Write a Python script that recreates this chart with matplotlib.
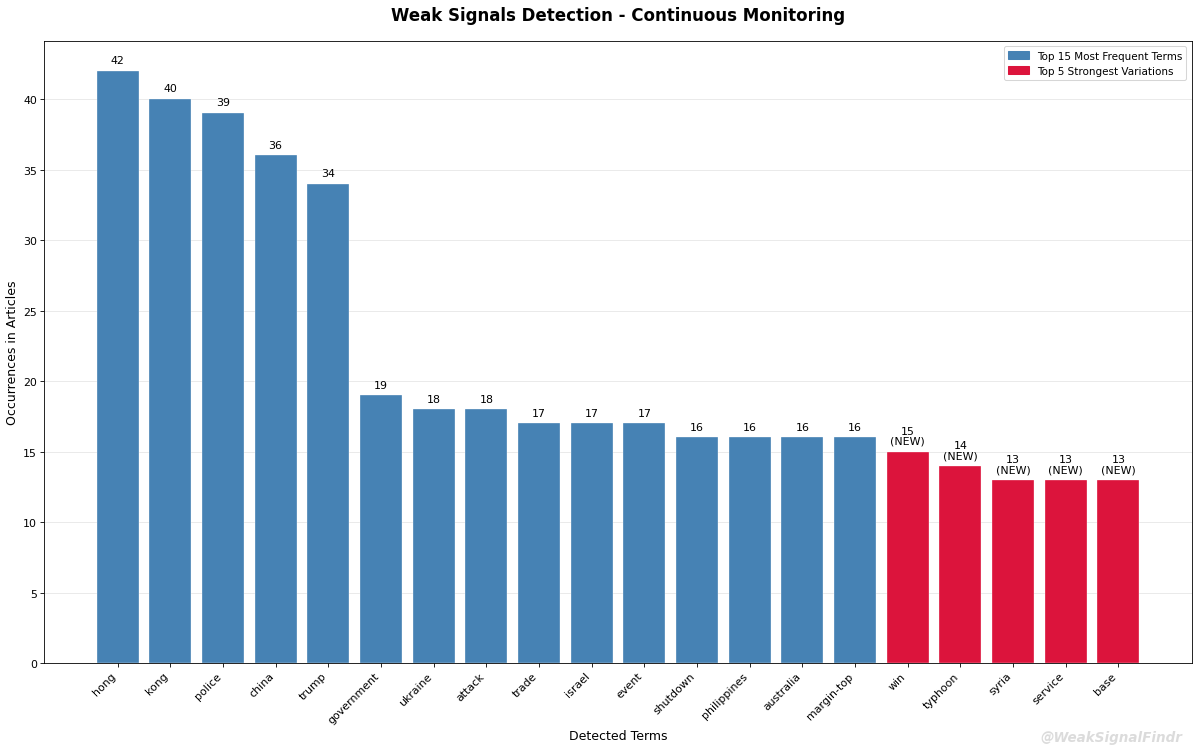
import matplotlib
matplotlib.use('Agg')
import matplotlib.pyplot as plt
from matplotlib.patches import Patch

terms = ['hong', 'kong', 'police', 'china', 'trump', 'government', 'ukraine',
         'attack', 'trade', 'israel', 'event', 'shutdown', 'philippines',
         'australia', 'margin-top', 'win', 'typhoon', 'syria', 'service', 'base']
counts = [42, 40, 39, 36, 34, 19, 18, 18, 17, 17, 17, 16, 16, 16, 16,
          15, 14, 13, 13, 13]
is_new = [False] * 15 + [True] * 5

colors = ['crimson' if n else 'steelblue' for n in is_new]

fig, ax = plt.subplots(figsize=(16, 10.04), dpi=75)
x = range(len(terms))
bars = ax.bar(x, counts, color=colors, width=0.8, edgecolor='white',
              linewidth=0.3)

# Etiquetas de valores
for b, c, n in zip(bars, counts, is_new):
    label = f'{c}\n(NEW)' if n else f'{c}'
    ax.text(b.get_x() + b.get_width() / 2, b.get_height() + 0.4, label,
            ha='center', va='bottom', fontsize=10.5, linespacing=1.0)

ax.set_xticks(list(x))
ax.set_xticklabels(terms, rotation=45, ha='right', fontsize=10.5)
ax.tick_params(axis='y', labelsize=10.5)
ax.set_xlabel('Detected Terms', fontsize=12)
ax.set_ylabel('Occurrences in Articles', fontsize=12)
ax.set_title('Weak Signals Detection - Continuous Monitoring',
             fontsize=16, fontweight='bold', pad=20)
ax.yaxis.grid(True, alpha=0.3)
ax.set_axisbelow(True)

legend_items = [Patch(color='steelblue', label='Top 15 Most Frequent Terms'),
                Patch(color='crimson', label='Top 5 Strongest Variations')]
ax.legend(handles=legend_items, loc='upper right', fontsize=10)

fig.text(0.985, 0.01, '@WeakSignalFindr', ha='right', va='bottom',
         fontsize=13, color='lightgray', alpha=0.8, style='italic',
         fontweight='bold')

plt.subplots_adjust(left=0.037, right=0.993, top=0.944, bottom=0.118)
plt.savefig('out.png')
